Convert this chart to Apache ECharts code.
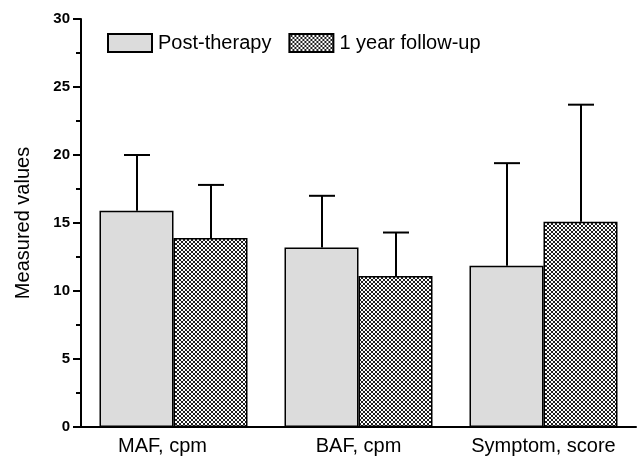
<!DOCTYPE html>
<html><head><meta charset="utf-8">
<script src="https://cdn.jsdelivr.net/npm/echarts@6/dist/echarts.min.js"></script>
<style>html,body{margin:0;padding:0;background:#fff}#c{width:640px;height:460px}</style>
</head><body><div id="c"></div>
<script>
const categories = ['MAF, cpm', 'BAF, cpm', 'Symptom, score'];
const seriesNames = ['Post-therapy', '1 year follow-up'];
const postTherapy = [15.9, 13.2, 11.85];
const postTherapyErr = [4.1, 3.8, 7.55];
const followUp = [13.9, 11.1, 15.1];
const followUpErr = [3.9, 3.2, 8.6];
const yTicks = [0, 5, 10, 15, 20, 25, 30];

const FONT = 'Liberation Sans, Arial, sans-serif';

function hatch() {
  const c = document.createElement('canvas');
  c.width = 4; c.height = 4;
  const ctx = c.getContext('2d');
  ctx.fillStyle = '#ffffff'; ctx.fillRect(0, 0, 4, 4);
  ctx.fillStyle = '#202020';
  [[0,0],[1,1],[2,2],[3,3],[3,0],[2,1],[1,2],[0,3]].forEach(p => ctx.fillRect(p[0], p[1], 1, 1));
  return c;
}
const hatchPattern = { image: hatch(), repeat: 'repeat' };

const chart = echarts.init(document.getElementById('c'), null, { renderer: 'canvas' });

function errSeries(vals, errs, sidx) {
  return {
    type: 'custom',
    name: 'err' + sidx,
    silent: true,
    z: 3,
    data: vals.map((v, i) => [i, v, v + errs[i]]),
    renderItem: function (params, api) {
      const band = api.size([1, 0])[0];
      const off = (sidx === 0 ? -0.2 : 0.2) * band;
      const base = api.coord([api.value(0), api.value(1)]);
      const top = api.coord([api.value(0), api.value(2)]);
      const x = Math.round(base[0] + off);
      const half = 13;
      return {
        type: 'group',
        children: [
          { type: 'line', shape: { x1: x, y1: base[1], x2: x, y2: top[1] }, style: { stroke: '#000', lineWidth: 2 } },
          { type: 'line', shape: { x1: x - half, y1: top[1], x2: x + half, y2: top[1] }, style: { stroke: '#000', lineWidth: 2 } }
        ]
      };
    }
  };
}

chart.setOption({
  animation: false,
  backgroundColor: '#fff',
  textStyle: { fontFamily: FONT },
  grid: { left: 81, right: 4, top: 19, bottom: 33, containLabel: false },
  legend: {
    data: seriesNames,
    icon: 'rect',
    left: 107, top: 33, padding: 0,
    itemWidth: 44, itemHeight: 18,
    itemGap: 17,
    textStyle: { fontSize: 20, color: '#000', fontFamily: FONT, padding: [0, 0, 0, 1] },
    selectedMode: false
  },
  xAxis: {
    type: 'category',
    data: categories.map((c, i) => i === 0 ? { value: c, textStyle: { padding: [0, 22, 0, 0] } } : c),
    axisLine: { lineStyle: { color: '#000', width: 2 } },
    axisTick: { show: false },
    axisLabel: { interval: 0, hideOverlap: false, fontSize: 20, color: '#000', margin: 9, fontFamily: FONT }
  },
  yAxis: {
    type: 'value',
    min: yTicks[0], max: yTicks[yTicks.length - 1], interval: 5,
    name: 'Measured values',
    nameLocation: 'middle',
    nameGap: 48,
    nameTextStyle: { fontSize: 20, color: '#000', fontFamily: FONT },
    axisLine: { show: true, lineStyle: { color: '#000', width: 2 } },
    axisTick: { show: true, length: 8, lineStyle: { color: '#000', width: 2 } },
    minorTick: { show: true, splitNumber: 2, length: 5, lineStyle: { color: '#000', width: 2 } },
    splitLine: { show: false },
    axisLabel: { fontSize: 15, fontWeight: 'bold', color: '#000', margin: 11, fontFamily: FONT }
  },
  series: [
    {
      name: seriesNames[0], type: 'bar', data: postTherapy,
      barGap: '0%', barCategoryGap: '20%',
      itemStyle: { color: '#dcdcdc', borderColor: '#000', borderWidth: 1.5 },
      z: 2
    },
    {
      name: seriesNames[1], type: 'bar', data: followUp,
      barGap: '0%', barCategoryGap: '20%',
      itemStyle: { color: hatchPattern, borderColor: '#000', borderWidth: 1.5 },
      z: 2
    },
    errSeries(postTherapy, postTherapyErr, 0),
    errSeries(followUp, followUpErr, 1)
  ]
});
</script>
</body></html>
